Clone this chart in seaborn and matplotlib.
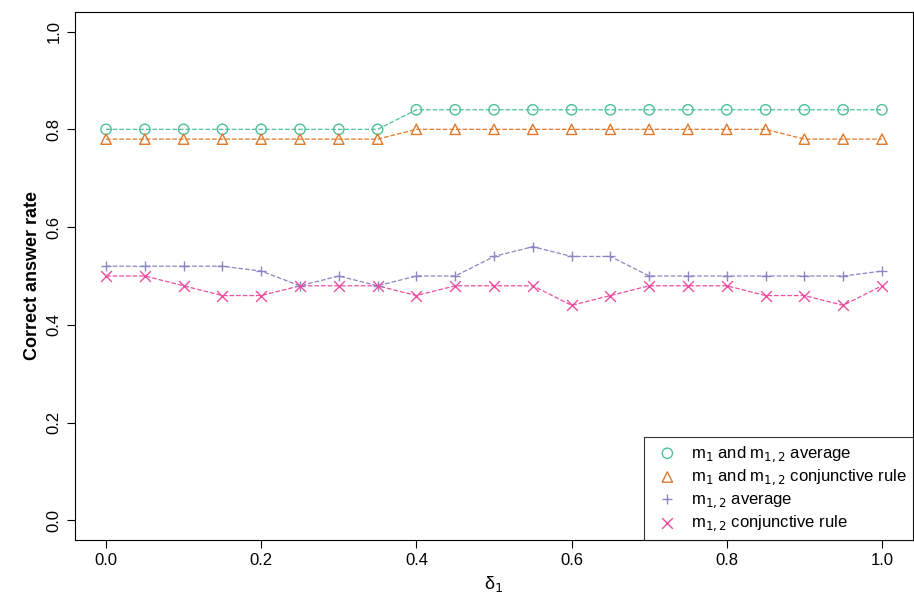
import matplotlib
matplotlib.use("Agg")
import matplotlib.pyplot as plt
import seaborn as sns
import pandas as pd

sns.set_theme(style="white")
plt.rcParams["font.family"] = ["Liberation Sans", "DejaVu Sans"]
plt.rcParams["text.color"] = "black"
plt.rcParams["axes.labelcolor"] = "black"
plt.rcParams["xtick.color"] = "black"
plt.rcParams["ytick.color"] = "black"

delta = [round(i * 0.05, 2) for i in range(21)]
avg_m1_m12 = [0.80] * 8 + [0.84] * 13
conj_m1_m12 = [0.78] * 8 + [0.80] * 10 + [0.78] * 3
avg_m12 = [0.52, 0.52, 0.52, 0.52, 0.51, 0.48, 0.50, 0.48, 0.50, 0.50, 0.54,
           0.56, 0.54, 0.54, 0.50, 0.50, 0.50, 0.50, 0.50, 0.50, 0.51]
conj_m12 = [0.50, 0.50, 0.48, 0.46, 0.46, 0.48, 0.48, 0.48, 0.46, 0.48, 0.48,
            0.48, 0.44, 0.46, 0.48, 0.48, 0.48, 0.46, 0.46, 0.44, 0.48]

series = [
    ("m$_1$ and m$_{1,2}$ average", avg_m1_m12, "#4dbf9a", "o"),
    ("m$_1$ and m$_{1,2}$ conjunctive rule", conj_m1_m12, "#e0782a", "^"),
    ("m$_{1,2}$ average", avg_m12, "#8a86c2", "+"),
    ("m$_{1,2}$ conjunctive rule", conj_m12, "#ea4fa0", "x"),
]

fig = plt.figure(figsize=(9.14, 5.92), dpi=100)
ax = fig.add_axes([75 / 914, 52 / 592, 838 / 914, 528 / 592])

for label, vals, color, marker in series:
    df = pd.DataFrame({"delta": delta, "rate": vals})
    sns.lineplot(data=df, x="delta", y="rate", ax=ax, color=color, linestyle="--",
                 linewidth=0.9, legend=False)
    mfc = "none" if marker in ("o", "^") else color
    ax.scatter(df["delta"], df["rate"], marker=marker, s=60 if marker in ("+", "x") else 55,
               facecolors=mfc, edgecolors=color if mfc == "none" else None,
               color=None if mfc == "none" else color, linewidths=1.0, label=label, zorder=3)

ax.set_xlim(-0.04, 1.04)
ax.set_ylim(-0.04, 1.04)
ax.set_xticks([0, 0.2, 0.4, 0.6, 0.8, 1.0])
ax.set_yticks([0, 0.2, 0.4, 0.6, 0.8, 1.0])
ax.set_xticklabels(["0.0", "0.2", "0.4", "0.6", "0.8", "1.0"], fontsize=12)
ax.set_yticklabels(["0.0", "0.2", "0.4", "0.6", "0.8", "1.0"], fontsize=12,
                   rotation=90, va="center")
ax.tick_params(axis="both", length=6, width=0.8, colors="black", direction="out",
               bottom=True, left=True)
for s in ax.spines.values():
    s.set_color("black")
    s.set_linewidth(0.8)
ax.set_xlabel("δ$_1$", fontsize=13)
ax.set_ylabel("Correct answer rate", fontsize=13, fontweight="bold")

leg = ax.legend(loc="lower right", fontsize=12, frameon=True, fancybox=False,
                borderaxespad=0, handletextpad=0.4, labelspacing=0.25)
leg.get_frame().set_edgecolor("black")
leg.get_frame().set_linewidth(0.8)

fig.savefig("out.png", dpi=100)
